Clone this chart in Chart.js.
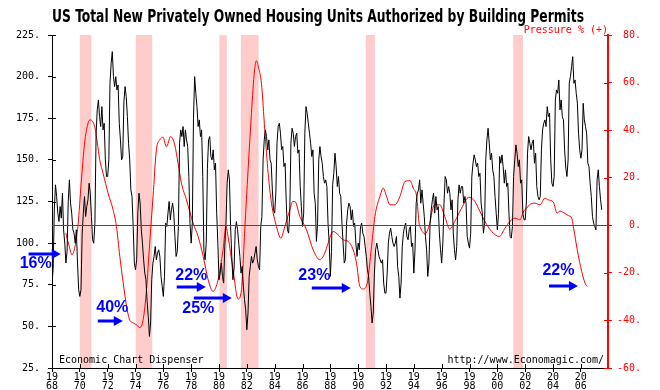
<!DOCTYPE html>
<html>
<head>
<meta charset="utf-8">
<script src="https://cdn.jsdelivr.net/npm/chart.js@4.4.1/dist/chart.umd.min.js"></script>
<style>
  html, body { margin: 0; padding: 0; background: #fff; }
  canvas { display: block; }
</style>
</head>
<body>
<canvas id="c" width="660" height="390"></canvas>
<script>
// monthly permits (thousands), Jan 1968 .. Jul 2007, one row per year
const permitStart = 1968;
const permits = [
  75, 85, 120, 135, 128, 118, 113, 122, 115, 130, 108, 100,
  88, 95, 125, 138, 124, 118, 108, 106, 100, 108, 88, 72,
  68, 72, 105, 118, 128, 116, 122, 126, 136, 130, 116, 102,
  100, 112, 165, 180, 186, 176, 170, 182, 168, 172, 150, 140,
  140, 150, 196, 208, 215, 200, 194, 200, 192, 195, 172, 162,
  150, 152, 185, 194, 188, 176, 160, 150, 132, 128, 110, 88,
  84, 90, 118, 130, 124, 108, 100, 90, 82, 78, 65, 56,
  44, 52, 78, 88, 92, 98, 90, 94, 96, 92, 80, 74,
  68, 80, 112, 110, 118, 125, 114, 120, 124, 118, 104, 92,
  95, 110, 160, 168, 164, 170, 158, 168, 162, 158, 140, 112,
  100, 112, 175, 200, 190, 182, 170, 174, 164, 168, 140, 95,
  90, 100, 145, 162, 164, 152, 150, 156, 144, 148, 118, 100,
  78, 82, 88, 80, 76, 98, 112, 136, 144, 138, 110, 92,
  78, 85, 108, 113, 108, 100, 92, 82, 86, 74, 66, 60,
  48, 58, 80, 86, 92, 88, 90, 94, 98, 90, 86, 84,
  110, 116, 150, 162, 168, 164, 156, 162, 150, 148, 132, 120,
  118, 130, 160, 170, 172, 166, 156, 158, 146, 148, 124, 108,
  106, 118, 160, 169, 166, 158, 164, 166, 154, 156, 134, 122,
  110, 118, 166, 182, 178, 172, 166, 160, 152, 156, 130, 124,
  101, 112, 150, 158, 152, 148, 140, 136, 138, 134, 112, 100,
  80, 95, 135, 142, 154, 146, 134, 140, 130, 128, 112, 100,
  88, 90, 112, 120, 124, 122, 114, 120, 110, 112, 100, 92,
  100, 96, 110, 112, 106, 104, 98, 92, 84, 80, 70, 62,
  52, 58, 82, 96, 100, 96, 92, 90, 88, 90, 76, 70,
  70, 82, 100, 106, 109, 104, 100, 98, 100, 104, 86, 80,
  67, 76, 98, 106, 110, 112, 104, 102, 108, 110, 98, 100,
  82, 96, 124, 130, 132, 138, 124, 132, 124, 116, 104, 96,
  80, 88, 112, 120, 126, 130, 118, 128, 120, 122, 106, 96,
  88, 100, 124, 140, 138, 130, 134, 130, 120, 126, 106, 96,
  90, 98, 126, 135, 130, 134, 134, 124, 128, 124, 104, 100,
  97, 106, 140, 148, 153, 150, 146, 148, 140, 142, 124, 118,
  106, 112, 150, 162, 169, 160, 150, 154, 144, 140, 128, 118,
  108, 118, 152, 148, 153, 146, 136, 144, 134, 136, 118, 104,
  103, 110, 140, 150, 159, 154, 146, 150, 136, 138, 118, 114,
  114, 124, 154, 164, 160, 156, 160, 162, 148, 154, 134, 128,
  126, 128, 156, 168, 172, 174, 170, 182, 176, 178, 150, 136,
  134, 140, 186, 192, 190, 198, 180, 186, 176, 174, 156, 145,
  140, 150, 196, 200, 206, 212, 196, 198, 190, 184, 166, 156,
  151, 156, 184, 174, 170, 166, 148, 146, 136, 128, 116, 112,
  110, 108, 138, 144, 134, 126, 120
];

// pressure % (right axis), read at these dates
const pressureYears = [
  1968.99, 1969.2, 1969.44, 1969.65, 1969.87, 1970.1, 1970.35, 1970.55, 1970.71,
  1971.07, 1971.25, 1971.43, 1971.67, 1972.03, 1972.39, 1972.63, 1972.87,
  1973.11, 1973.4, 1973.6, 1973.83, 1974.1, 1974.31, 1974.55, 1974.79,
  1975.02, 1975.26, 1975.5, 1975.74, 1975.98, 1976.22, 1976.53, 1976.82,
  1977.06, 1977.3, 1977.66, 1978.14, 1978.5, 1978.86, 1979.22, 1979.57,
  1979.93, 1980.29, 1980.5, 1980.65, 1981.01, 1981.37, 1981.62, 1981.85,
  1982.09, 1982.33, 1982.55, 1982.69, 1982.85, 1983.05, 1983.29, 1983.53,
  1983.77, 1984.13, 1984.44, 1984.73, 1985.09, 1985.3, 1985.45, 1985.81,
  1986.29, 1986.76, 1987.25, 1987.6, 1987.84, 1988.2, 1988.56, 1988.92,
  1989.28, 1989.64, 1989.88, 1990.12, 1990.36, 1990.65, 1990.96, 1991.2,
  1991.56, 1991.8, 1992.04, 1992.28, 1992.64, 1993.0, 1993.36, 1993.72,
  1993.96, 1994.2, 1994.39, 1994.43, 1994.79, 1995.15, 1995.35, 1995.51,
  1995.87, 1996.22, 1996.58, 1996.94, 1997.43, 1997.96, 1998.39, 1998.75,
  1999.11, 1999.59, 2000.14, 2000.55, 2000.9, 2001.26, 2001.62, 2001.9,
  2002.1, 2002.4, 2002.7, 2003.06, 2003.42, 2003.66, 2004.02, 2004.3,
  2004.5, 2004.74, 2005.1, 2005.34, 2005.5, 2005.74, 2006.06, 2006.3, 2006.46
];
const pressureValues = [
  -3.3, -8, -12.4, -9, 0, 18, 35, 42, 44.3,
  41.5, 35, 27.5, 21.9, 13.5, 6.5, -0.5, -13,
  -24, -35.5, -40, -41, -42, -43, -39.7, -27,
  -7.5, 12, 31.7, 35.9, 37, 33, 37.3, 33.8,
  26, 17.7, 10.7, 0.9, -4.7, -13, -22.9, -27.8,
  -23, -10.3, -0.5, -4.7, -18.7, -31, -27, -1.9,
  23.3, 47, 65, 69.2, 66, 59.7, 40, 21.9,
  9.3, -0.5, -5.4, -0.5, 6.5, 10, 10, 3.7,
  -1.9, -10.3, -14.5, -11.7, -7.5, -2.6, -4, -6.1,
  -6.8, -10.3, -15.9, -25.7, -26.8, -24.3, -8.9, 3.7,
  12.1, 15.6, 12.1, 8.6, 8.6, 12.1, 18.4, 18.8,
  15.6, 12.1, 0.2, -0.5, -3.6, 0.9, 7, 8.6,
  8.6, 3.7, -1.6, 1.6, 7.2, 11.8, 10, 5.8,
  1.6, -2.6, -4.7, -1.2, 1.6, 3, 2.3, 6,
  7.2, 9, 9.3, 8.6, 11.4, 10.7, 9.7, 5.1,
  6, 5.4, 4.1, 3, -1.9, -10.3, -19.4, -24.3, -25.7
];

// recession bands (decimal years)
const recessionStarts = [1970.0, 1974.02, 1980.03, 1981.57, 1990.55, 2001.14];
const recessionEnds   = [1970.83, 1975.2, 1980.56, 1982.84, 1991.2, 2001.84];

// blue notes: text centre and arrow, in (year, left-axis value)
const noteTexts  = ['16%', '40%', '22%', '25%', '23%', '22%'];
const noteYears  = [1966.83, 1972.33, 1978.01, 1978.51, 1986.85, 2004.39];
const noteValues = [87.5, 61.3, 80.6, 60.4, 80.3, 83.3];
const arrowFrom  = [1966.32, 1971.29, 1976.96, 1978.19, 1986.67, 2003.71];
const arrowTo    = [1968.63, 1973.09, 1979.05, 1980.92, 1989.47, 2005.79];
const arrowValue = [93.5, 53.2, 73.7, 67, 73, 74.2];

const MONO = "'DejaVu Sans Mono', monospace";
const RED = '#ff0000';

const permitPoints = permits.map((v, i) => ({ x: permitStart + i / 12, y: v }));
const pressurePoints = pressureYears.map((t, i) => ({ x: t, y: pressureValues[i] }));

const decor = {
  id: 'decor',
  beforeDraw(chart) {
    const { ctx, chartArea: a, scales: { x } } = chart;
    ctx.save();
    ctx.fillStyle = '#fff';
    ctx.fillRect(0, 0, chart.width, chart.height);
    ctx.fillStyle = '#ffcccc';
    recessionStarts.forEach((s, i) => {
      const x1 = x.getPixelForValue(s), x2 = x.getPixelForValue(recessionEnds[i]);
      ctx.fillRect(x1, a.top, x2 - x1, a.bottom - a.top);
    });
    ctx.restore();
  },
  afterDatasetsDraw(chart) {
    const { ctx, chartArea: a, scales: { x, y, y2 } } = chart;
    ctx.save();
    // zero pressure line
    const y0 = Math.round(y2.getPixelForValue(0)) + 0.5;
    ctx.strokeStyle = RED;
    ctx.lineWidth = 1;
    ctx.beginPath();
    ctx.moveTo(a.left, y0);
    ctx.lineTo(a.right, y0);
    ctx.stroke();

    // inner half of the tick marks
    ctx.strokeStyle = '#000';
    ctx.beginPath();
    y.ticks.forEach(t => {
      const py = Math.round(y.getPixelForValue(t.value)) + 0.5;
      ctx.moveTo(a.left, py); ctx.lineTo(a.left + 4, py);
    });
    x.ticks.forEach(t => {
      const px = Math.round(x.getPixelForValue(t.value)) + 0.5;
      ctx.moveTo(px, a.bottom); ctx.lineTo(px, a.bottom - 4);
    });
    ctx.stroke();
    ctx.strokeStyle = RED;
    ctx.beginPath();
    y2.ticks.forEach(t => {
      const py = Math.round(y2.getPixelForValue(t.value)) + 0.5;
      ctx.moveTo(a.right, py); ctx.lineTo(a.right - 4, py);
    });
    ctx.stroke();

    // title
    const title = 'US Total New Privately Owned Housing Units Authorized by Building Permits';
    ctx.fillStyle = '#000';
    ctx.font = "bold 18px 'Liberation Sans Narrow', 'DejaVu Sans Condensed', sans-serif";
    ctx.textAlign = 'center';
    ctx.textBaseline = 'middle';
    const w = ctx.measureText(title).width;
    ctx.save();
    ctx.translate(318, 17);
    ctx.scale(532 / w, 1);
    ctx.fillText(title, 0, 0);
    ctx.restore();

    // small texts
    ctx.font = '10px ' + MONO;
    ctx.fillStyle = RED;
    ctx.textAlign = 'right';
    ctx.fillText('Pressure % (+)', a.right, 30);
    ctx.fillStyle = '#000';
    ctx.fillText('http://www.Economagic.com/', a.right - 4, 360);
    ctx.textAlign = 'left';
    ctx.fillText('Economic Chart Dispenser', a.left + 7, 360);

    // blue notes with arrows
    ctx.fillStyle = '#0000ff';
    ctx.strokeStyle = '#0000ff';
    ctx.font = "bold 16px 'Liberation Sans', Arial, sans-serif";
    ctx.textAlign = 'center';
    noteTexts.forEach((txt, i) => {
      ctx.fillText(txt, x.getPixelForValue(noteYears[i]), y.getPixelForValue(noteValues[i]));
      const x1 = x.getPixelForValue(arrowFrom[i]);
      const x2 = x.getPixelForValue(arrowTo[i]);
      const ay = Math.round(y.getPixelForValue(arrowValue[i]));
      ctx.lineWidth = 3;
      ctx.beginPath();
      ctx.moveTo(x1, ay); ctx.lineTo(x2 - 7, ay);
      ctx.stroke();
      ctx.beginPath();
      ctx.moveTo(x2, ay);
      ctx.lineTo(x2 - 9, ay - 5);
      ctx.lineTo(x2 - 9, ay + 5);
      ctx.closePath();
      ctx.fill();
    });
    ctx.restore();
  }
};

new Chart(document.getElementById('c'), {
  type: 'line',
  data: {
    datasets: [
      {
        label: 'Permits',
        data: permitPoints,
        yAxisID: 'y',
        borderColor: '#000',
        borderWidth: 1,
        pointRadius: 0,
        tension: 0
      },
      {
        label: 'Pressure %',
        data: pressurePoints,
        yAxisID: 'y2',
        borderColor: RED,
        borderWidth: 1,
        pointRadius: 0,
        cubicInterpolationMode: 'monotone'
      }
    ]
  },
  options: {
    responsive: false,
    devicePixelRatio: 1,
    animation: false,
    events: [],
    layout: { padding: { top: 35, right: 19, left: 0, bottom: 0 } },
    plugins: { legend: { display: false }, tooltip: { enabled: false }, title: { display: false } },
    scales: {
      x: {
        type: 'linear',
        min: 1968,
        max: 2007.95,
        afterFit: s => { s.height = 22; },
        border: { color: '#000', width: 1 },
        grid: { drawOnChartArea: false, color: '#000', tickLength: 4 },
        ticks: {
          stepSize: 2,
          includeBounds: false,
          autoSkip: false,
          maxRotation: 0,
          padding: 1,
          color: '#000',
          font: { family: MONO, size: 10, lineHeight: 0.9 },
          callback: v => { const s = String(v); return [s.slice(0, 2), s.slice(2)]; }
        }
      },
      y: {
        position: 'left',
        min: 25,
        max: 225,
        afterFit: s => { s.width = 52; },
        border: { color: '#000', width: 1 },
        grid: { drawOnChartArea: false, color: '#000', tickLength: 4 },
        ticks: {
          stepSize: 25,
          padding: 8,
          color: '#000',
          font: { family: MONO, size: 10 },
          callback: v => v + '.'
        }
      },
      y2: {
        position: 'right',
        min: -60,
        max: 80,
        afterFit: s => { s.width = 33; },
        border: { color: RED, width: 2 },
        grid: { drawOnChartArea: false, color: RED, tickLength: 4 },
        ticks: {
          stepSize: 20,
          padding: 4,
          crossAlign: 'far',
          color: RED,
          font: { family: MONO, size: 10 },
          callback: v => v + '.'
        }
      }
    }
  },
  plugins: [decor]
});
</script>
</body>
</html>
